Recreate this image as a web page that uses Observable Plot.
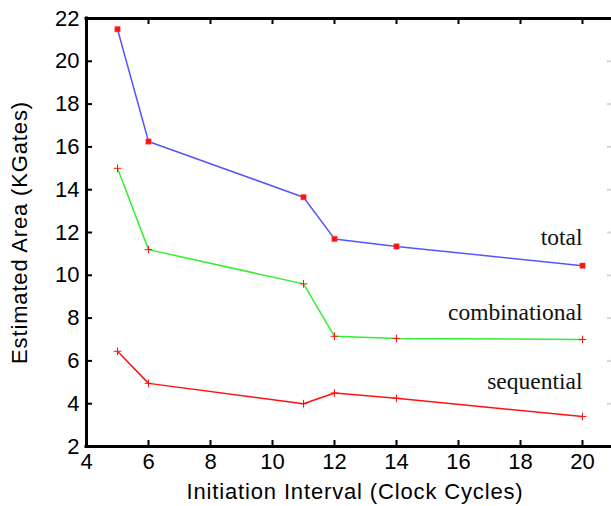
<!DOCTYPE html>
<html><head><meta charset="utf-8">
<script src="https://cdn.jsdelivr.net/npm/d3@7"></script>
<script src="https://cdn.jsdelivr.net/npm/@observablehq/plot@0.6"></script>
<style>body{margin:0;background:#fff} svg{display:block}</style>
</head><body><div id="chart"></div>
<script>
const intervals = [5, 6, 11, 12, 14, 20];
const totalArea = [21.5, 16.25, 13.65, 11.7, 11.35, 10.45];
const combinationalArea = [15.0, 11.2, 9.6, 7.15, 7.05, 7.0];
const sequentialArea = [6.45, 4.95, 4.0, 4.5, 4.25, 3.4];
const seriesNames = ["total", "combinational", "sequential"];
const seriesLabelY = [11.75, 8.25, 5.05];
const seriesColors = ["#5555ff", "#33ee33", "#ff1111"];
const markerShapes = ["square", "plus", "plus"];
const xTicks = [4, 6, 8, 10, 12, 14, 16, 18, 20];
const yTicks = [2, 4, 6, 8, 10, 12, 14, 16, 18, 20, 22];
const xTitle = "Initiation Interval (Clock Cycles)";
const yTitle = "Estimated Area (KGates)";

const valuesBySeries = [totalArea, combinationalArea, sequentialArea];
const rows = seriesNames.flatMap((s, i) => intervals.map((x, j) => ({series: s, x, y: valuesBySeries[i][j], shape: markerShapes[i]})));
const labels = seriesNames.map((s, i) => ({series: s, x: intervals[intervals.length - 1], y: seriesLabelY[i]}));

const W = 611, H = 506, mL = 86, mR = -2, mT = 18, mB = 60;
const plotW = W - mL - mR, plotH = H - mT - mB;

const chart = Plot.plot({
  width: W, height: H,
  marginLeft: mL, marginRight: mR, marginTop: mT, marginBottom: mB,
  style: {fontFamily: "'Liberation Sans', Arial, sans-serif", fontSize: "22px", background: "#fff", overflow: "visible"},
  x: {domain: [4, 21], axis: null},
  y: {domain: [2, 22], axis: null},
  color: {domain: seriesNames, range: seriesColors},
  marks: [
    // faint right ticks
    Plot.tickY(yTicks, {y: d => d, stroke: "#d8d8d8", strokeWidth: 2, insetLeft: plotW - 6}),
    // inward ticks
    Plot.tickY(yTicks, {y: d => d, stroke: "#000", strokeWidth: 2, insetRight: plotW - 6}),
    Plot.tickX(xTicks, {x: d => d, stroke: "#000", strokeWidth: 2, insetTop: plotH - 6}),
    Plot.tickX(xTicks, {x: d => d, stroke: "#000", strokeWidth: 2, insetBottom: plotH - 6}),
    // frame
    Plot.ruleY([2, 22], {stroke: "#000", strokeWidth: 3, strokeLinecap: "square"}),
    Plot.ruleX([4], {stroke: "#000", strokeWidth: 3, strokeLinecap: "square"}),
    // axes labels
    Plot.axisX(xTicks, {tickSize: 0, tickPadding: 7, label: null, fontSize: 22}),
    Plot.axisY(yTicks, {tickSize: 0, tickPadding: 7, label: null, fontSize: 22}),
    Plot.text([xTitle], {frameAnchor: "bottom", text: d => d, dx: 5, dy: 45, textAnchor: "middle", lineAnchor: "middle", fontSize: 22}),
    Plot.text([yTitle], {frameAnchor: "left", text: d => d, dx: -67, rotate: -90, textAnchor: "middle", lineAnchor: "middle", fontSize: 22}),
    // series
    Plot.line(rows, {x: "x", y: "y", z: "series", stroke: "series", strokeWidth: 1.5}),
    Plot.dot(rows.filter(d => d.shape === "square"), {x: "x", y: "y", symbol: "square", r: 3, fill: "#ff1111", stroke: "#ff4444", strokeWidth: 0.5}),
    Plot.dot(rows.filter(d => d.shape === "plus"), {x: "x", y: "y", symbol: "plus", r: 2.6, fill: "#ff1111", stroke: "#ff1111", strokeWidth: 1}),
    Plot.text(labels, {x: "x", y: "y", text: "series", textAnchor: "end", lineAnchor: "middle", fontFamily: "'Liberation Serif', 'Times New Roman', serif", fontSize: 23.5, fill: "#111"})
  ]
});
d3.select(chart).selectAll("text")
  .filter(function () { return this.textContent === xTitle || this.textContent === yTitle; })
  .style("letter-spacing", "0.85px");
document.getElementById("chart").appendChild(chart);
</script>
</body></html>
